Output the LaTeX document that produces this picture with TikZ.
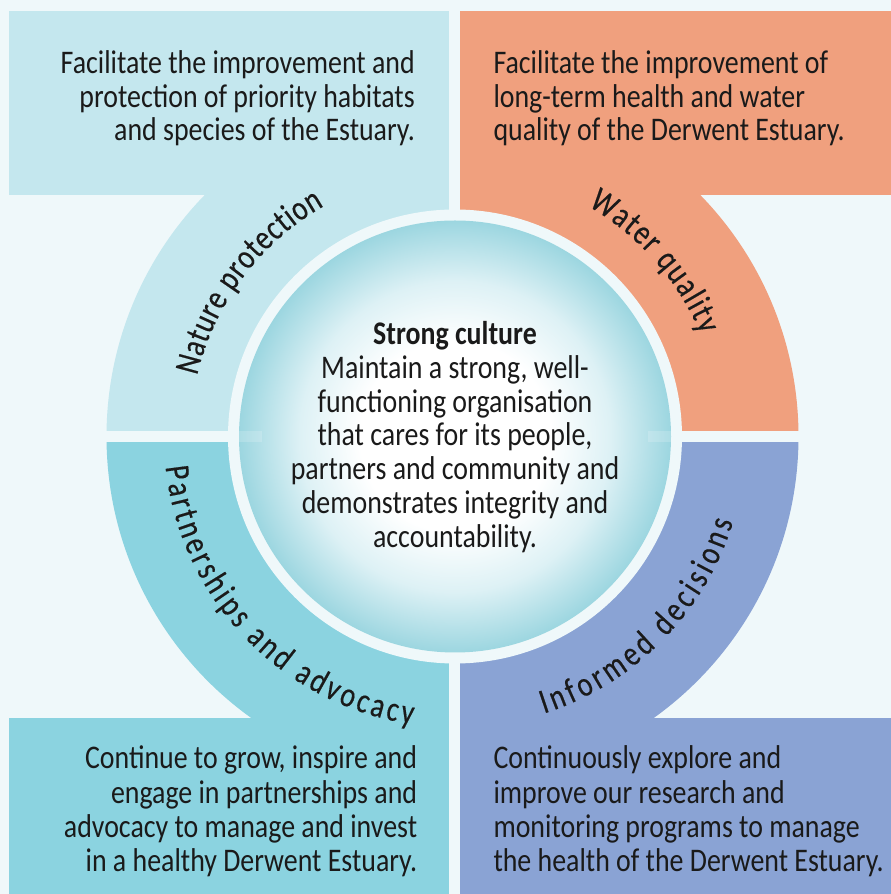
\documentclass[tikz,border=0pt]{standalone}
\usepackage{fontspec}
\setmainfont[FakeStretch=0.845]{Carlito}
\newfontfamily\lblfont[FakeStretch=0.8,FakeBold=0.4]{Carlito}
\usetikzlibrary{decorations.text}
\definecolor{bgc}{HTML}{EFF8FA}
\definecolor{natc}{HTML}{C4E7EE}
\definecolor{watc}{HTML}{F0A07E}
\definecolor{parc}{HTML}{8BD3E0}
\definecolor{infc}{HTML}{8AA3D4}
\definecolor{txtc}{HTML}{1A1A1A}
\definecolor{balledge}{HTML}{9CD6E0}
\definecolor{ballmid}{HTML}{DDF1F5}
\pgfdeclareradialshading{ballshade}{\pgfpoint{0bp}{0bp}}{color(0bp)=(white); color(11bp)=(white); color(18bp)=(ballmid); color(25bp)=(balledge); color(50bp)=(balledge)}
\begin{document}
\begin{tikzpicture}[x=1pt,y=1pt,
  body/.style={font=\fontsize{33}{34}\selectfont, text=txtc, inner sep=0pt},
  lbl/.style={decorate, decoration={text along path, text align={fit to path}}}]
\useasboundingbox (0,0) rectangle (891,894);
\fill[bgc] (0,0) rectangle (891,894);
% top-left quadrant
\fill[natc] (9,699) rectangle (454.5,883);
\begin{scope}
\clip (0,457.5) rectangle (454.5,894);
\fill[natc] (452.5,457.5) circle[radius=346];
\end{scope}
% top-right quadrant
\fill[watc] (454.5,699) rectangle (891,883);
\begin{scope}
\clip (454.5,457.5) rectangle (891,894);
\fill[watc] (452.5,457.5) circle[radius=346];
\end{scope}
% bottom-left quadrant
\fill[parc] (9,0) rectangle (454.5,176);
\begin{scope}
\clip (0,0) rectangle (454.5,457.5);
\fill[parc] (452.5,457.5) circle[radius=346];
\end{scope}
% bottom-right quadrant
\fill[infc] (454.5,0) rectangle (891,176);
\begin{scope}
\clip (454.5,0) rectangle (891,457.5);
\fill[infc] (452.5,457.5) circle[radius=346];
\end{scope}
% gaps
\fill[bgc] (449,0) rectangle (460,894);
\fill[bgc] (0,452) rectangle (891,463);
% centre disc
\fill[bgc] (455,457.5) circle[radius=227];
\shade[shading=ballshade] (455,457.5) circle[radius=216];
\fill[white, opacity=0.18] (239,452) rectangle (262,463);
\fill[white, opacity=0.18] (648,452) rectangle (671,463);
% ring labels
\path[lbl, decoration={text={|\lblfont\fontsize{35}{35}\selectfont\color{txtc}|Nature protection}}]
  (455,457.5) ++(166.7:265) arc[start angle=166.7, end angle=119.6, radius=265];
\path[lbl, decoration={text={|\lblfont\fontsize{35}{35}\selectfont\color{txtc}|Water quality}}]
  (455,457.5) ++(60:266) arc[start angle=60, end angle=22.5, radius=266];
\path[lbl, decoration={text={|\lblfont\fontsize{35}{35}\selectfont\color{txtc}|Partnerships and advocacy}}]
  (455,457.5) ++(186:291) arc[start angle=186, end angle=261.5, radius=291];
\path[lbl, decoration={text={|\lblfont\fontsize{35}{35}\selectfont\color{txtc}|Informed decisions}}]
  (455,457.5) ++(287.8:291) arc[start angle=287.8, end angle=342.9, radius=291];
% top-left text
\node[body, anchor=base east] (tl1) at (415,820) {Facilitate the improvement and};
\node[body, anchor=base east] (tl2) at (415,786.7) {protection of priority habitats};
\node[body, anchor=base east] (tl3) at (415,753.3) {and species of the Estuary.};
% top-right text
\node[body, anchor=base west] (tr1) at (493.3,820) {Facilitate the improvement of};
\node[body, anchor=base west] (tr2) at (493.3,786.7) {long-term health and water};
\node[body, anchor=base west] (tr3) at (493.3,753.3) {quality of the Derwent Estuary.};
% bottom-left text
\node[body, anchor=base east] (bl1) at (417.3,125) {Continue to grow, inspire and};
\node[body, anchor=base east] (bl2) at (417.3,90.7) {engage in partnerships and};
\node[body, anchor=base east] (bl3) at (417.3,56.7) {advocacy to manage and invest};
\node[body, anchor=base east] (bl4) at (417.3,22.7) {in a healthy Derwent Estuary.};
% bottom-right text
\node[body, anchor=base west] (br1) at (493.3,125) {Continuously explore and};
\node[body, anchor=base west] (br2) at (493.3,90.7) {improve our research and};
\node[body, anchor=base west] (br3) at (493.3,56.7) {monitoring programs to manage};
\node[body, anchor=base west] (br4) at (493.3,22.7) {the health of the Derwent Estuary.};
% centre text
\node[body, anchor=base, font=\fontsize{33}{34}\selectfont\bfseries] (c0) at (455,549) {Strong culture};
\node[body, anchor=base] (c1) at (455,515.5) {Maintain a strong, well-};
\node[body, anchor=base] (c2) at (455,481.7) {functioning organisation};
\node[body, anchor=base] (c3) at (455,448) {that cares for its people,};
\node[body, anchor=base] (c4) at (455,414.2) {partners and community and};
\node[body, anchor=base] (c5) at (455,380.4) {demonstrates integrity and};
\node[body, anchor=base] (c6) at (455,346.6) {accountability.};
\end{tikzpicture}
\end{document}
